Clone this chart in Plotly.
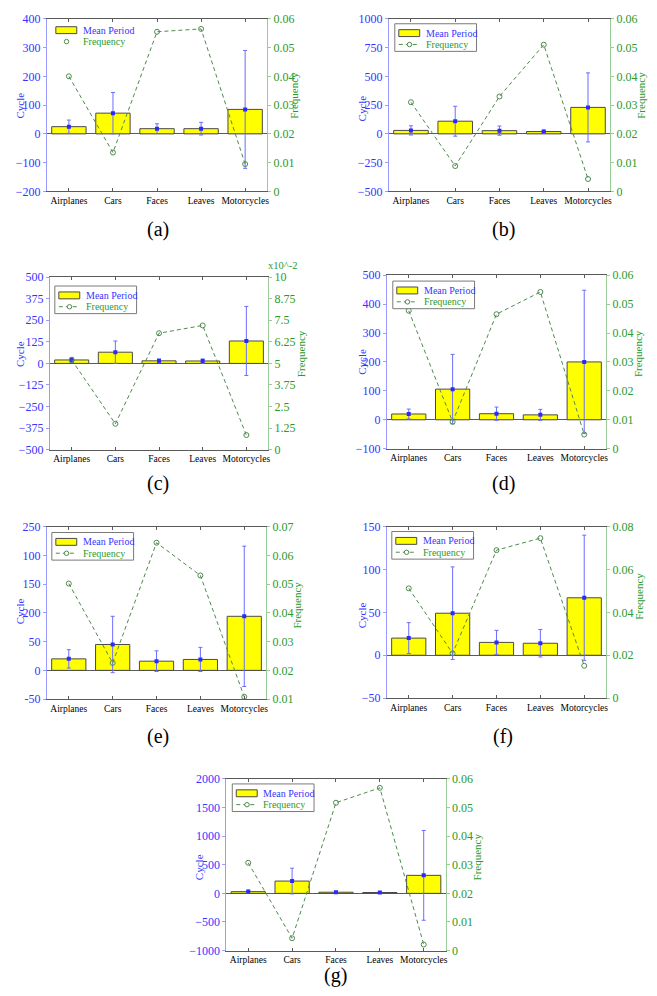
import plotly.graph_objects as go

categories = ["Airplanes", "Cars", "Faces", "Leaves", "Motorcycles"]

a_mean = [25, 72, 18, 18, 85]
a_err = [23, 72, 17, 22, 205]
a_freq = [0.040, 0.0135, 0.0555, 0.0565, 0.0095]

b_mean = [30, 110, 28, 20, 230]
b_err = [40, 130, 40, 12, 300]
b_freq = [0.031, 0.0088, 0.033, 0.051, 0.0043]

c_mean = [20, 65, 15, 14, 130]
c_err = [15, 65, 10, 12, 200]
c_freq = [5.2, 1.5, 6.75, 7.2, 0.85]  # x10^-2

d_mean = [20, 106, 21, 17, 200]
d_err = [17, 120, 23, 19, 248]
d_freq = [0.0477, 0.0093, 0.0465, 0.0542, 0.0049]

e_mean = [20, 45, 16, 19, 94]
e_err = [16, 49, 18, 21, 122]
e_freq = [0.0502, 0.0226, 0.0644, 0.053, 0.0108]
e_tickvals = [-50, 0, 50, 100, 150, 200, 250]
e_ticktext = ["-50", "0", "50", "200", "150", "100", "250"]

f_mean = [20, 49, 15, 14, 67]
f_err = [18, 54, 14, 16, 73]
f_freq = [0.0512, 0.0209, 0.069, 0.0746, 0.0151]

g_mean = [30, 215, 20, 15, 315]
g_err = [30, 225, 15, 10, 785]
g_freq = [0.0307, 0.0043, 0.0517, 0.0569, 0.0021]

panel_labels = ["(a)", "(b)", "(c)", "(d)", "(e)", "(f)", "(g)"]

W, H = 657, 996
FONT = "Liberation Serif, Times New Roman, serif"
BLUE = "#3535ff"
BLUE_LINE = "#9a9aff"
GREEN = "#2a9a2a"
GREEN_LINE = "#9acc9a"
FREQ_LINE = "#4f8a4f"
ERR = "#6c6cff"

boxes = [
    (47, 268, 12, 187),
    (390, 612, 12, 187),
    (50, 269, 274, 449),
    (388, 608, 272, 448),
    (47, 267, 527, 702),
    (388, 608, 527, 701),
    (227, 447, 783, 957),
]
label_pos = [(158, 226), (505, 226), (158, 483), (505, 483), (158, 740), (505, 740), (337, 982)]
legend_pos = [(52, 14), (396, 17), (55, 283), (394, 278), (52, 533), (393, 532), (233, 788)]
cycle_pos = [(20, 100), (363, 103), (20, 352), (363, 360), (20, 613), (363, 617), (199, 872)]
freq_pos = [(295, 90), (643, 90), (302, 352), (640, 352), (298, 607), (641, 598), (478, 862)]

panels = [
    dict(mean=a_mean, err=a_err, freq=a_freq, yr=[-200, 400], dt=100, y2r=[0, 0.06], dt2=0.01),
    dict(mean=b_mean, err=b_err, freq=b_freq, yr=[-500, 1000], dt=250, y2r=[0, 0.06], dt2=0.01),
    dict(mean=c_mean, err=c_err, freq=c_freq, yr=[-500, 500], dt=125, y2r=[0, 10], dt2=1.25),
    dict(mean=d_mean, err=d_err, freq=d_freq, yr=[-100, 500], dt=100, y2r=[0, 0.06], dt2=0.01),
    dict(mean=e_mean, err=e_err, freq=e_freq, yr=[-50, 250], dt=50, y2r=[0.01, 0.07], dt2=0.01,
         tv=e_tickvals, tt=e_ticktext),
    dict(mean=f_mean, err=f_err, freq=f_freq, yr=[-50, 150], dt=50, y2r=[0, 0.08], dt2=0.02),
    dict(mean=g_mean, err=g_err, freq=g_freq, yr=[-1000, 2000], dt=500, y2r=[0, 0.06], dt2=0.01),
]


def px(x):
    return x / W


def py(y):
    return 1 - y / H


fig = go.Figure()
layout = dict(
    width=W, height=H, margin=dict(l=0, r=0, t=0, b=0),
    paper_bgcolor="white", plot_bgcolor="white",
    font=dict(family=FONT, size=11, color="black"),
    showlegend=False, barmode="overlay",
)
annotations = []
shapes = []

for i, p in enumerate(panels):
    n = i + 1
    xname = "x" if n == 1 else f"x{n}"
    yl = 2 * i + 1
    yr_ = 2 * i + 2
    ylname = "y" if yl == 1 else f"y{yl}"
    yrname = f"y{yr_}"
    x0, x1, y0, y1 = boxes[i]

    fig.add_trace(go.Bar(
        x=categories, y=p["mean"], xaxis=xname, yaxis=ylname, name="Mean Period",
        marker=dict(color="#ffff00", line=dict(color="#4a4a4a", width=1)),
        width=0.78,
    ))
    fig.add_trace(go.Scatter(
        x=categories, y=p["mean"], xaxis=xname, yaxis=ylname, mode="markers",
        marker=dict(color="#2a2aff", size=4, symbol="square"),
        error_y=dict(type="data", array=p["err"], color=ERR, thickness=1, width=2),
        name="Mean Period",
    ))
    fig.add_trace(go.Scatter(
        x=categories, y=p["freq"], xaxis=xname, yaxis=yrname, mode="lines+markers",
        line=dict(color=FREQ_LINE, width=1, dash="4px,3px"),
        marker=dict(symbol="circle-open", size=5, color=FREQ_LINE, line=dict(width=1)),
        name="Frequency",
    ))

    xkey = "xaxis" if n == 1 else f"xaxis{n}"
    ylkey = "yaxis" if yl == 1 else f"yaxis{yl}"
    yrkey = f"yaxis{yr_}"
    layout[xkey] = dict(
        domain=[px(x0), px(x1)], anchor=ylname, type="category", range=[-0.5, 4.5],
        showline=True, linecolor="#5a5a5a", linewidth=1, mirror="ticks",
        ticks="inside", ticklen=3, tickcolor="#5a5a5a", showgrid=False, tickangle=0,
        tickfont=dict(family=FONT, size=9.5, color="black"), fixedrange=True,
    )
    ya = dict(
        domain=[py(y1), py(y0)], anchor=xname, range=p["yr"], dtick=p["dt"], tick0=0,
        showline=True, linecolor=BLUE_LINE, linewidth=1, ticks="outside", ticklen=3,
        tickcolor=BLUE_LINE, showgrid=False, zeroline=True, zerolinecolor="#5a5a5a",
        zerolinewidth=1, tickfont=dict(family=FONT, size=12, color=BLUE),
    )
    if "tv" in p:
        ya.update(tickmode="array", tickvals=p["tv"], ticktext=p["tt"])
    layout[ylkey] = ya
    layout[yrkey] = dict(
        overlaying=ylname, anchor=xname, side="right", range=p["y2r"], dtick=p["dt2"],
        tick0=0, showline=True, linecolor=GREEN_LINE, linewidth=1, ticks="outside",
        ticklen=3, tickcolor=GREEN_LINE, showgrid=False, zeroline=False,
        tickfont=dict(family=FONT, size=12, color=GREEN),
    )

    cx, cy = cycle_pos[i]
    annotations.append(dict(text="Cycle", x=px(cx), y=py(cy), xref="paper", yref="paper",
                            showarrow=False, textangle=-90, xanchor="center", yanchor="middle",
                            font=dict(family=FONT, size=11, color=BLUE)))
    fx, fy = freq_pos[i]
    annotations.append(dict(text="Frequency", x=px(fx), y=py(fy), xref="paper", yref="paper",
                            showarrow=False, textangle=-90, xanchor="center", yanchor="middle",
                            font=dict(family=FONT, size=11, color=GREEN)))

    lx, ly = legend_pos[i]
    boxed = n != 1
    if boxed:
        shapes.append(dict(type="rect", xref="paper", yref="paper", layer="above",
                           x0=px(lx), x1=px(lx + 82), y0=py(ly + 28), y1=py(ly),
                           line=dict(color="#7a7a7a", width=1), fillcolor="white"))
    shapes.append(dict(type="rect", xref="paper", yref="paper", layer="above",
                       x0=px(lx + 4), x1=px(lx + 25), y0=py(ly + 13), y1=py(ly + 6),
                       line=dict(color="#4a4a4a", width=1), fillcolor="#ffff00"))
    if boxed:
        shapes.append(dict(type="line", xref="paper", yref="paper", layer="above",
                           x0=px(lx + 4), x1=px(lx + 25), y0=py(ly + 21), y1=py(ly + 21),
                           line=dict(color=FREQ_LINE, width=1, dash="4px,3px")))
    shapes.append(dict(type="circle", xref="paper", yref="paper", layer="above",
                       x0=px(lx + 12.5), x1=px(lx + 17), y0=py(ly + 23.3), y1=py(ly + 18.8),
                       line=dict(color=FREQ_LINE, width=1), fillcolor="white"))
    annotations.append(dict(text="Mean Period", x=px(lx + 29), y=py(ly + 9.5), xref="paper",
                            yref="paper", showarrow=False, xanchor="left", yanchor="middle",
                            font=dict(family=FONT, size=10, color=BLUE)))
    annotations.append(dict(text="Frequency", x=px(lx + 29), y=py(ly + 21), xref="paper",
                            yref="paper", showarrow=False, xanchor="left", yanchor="middle",
                            font=dict(family=FONT, size=10, color=GREEN)))

    lbx, lby = label_pos[i]
    annotations.append(dict(text=panel_labels[i], x=px(lbx), y=py(lby), xref="paper",
                            yref="paper", showarrow=False, xanchor="center", yanchor="middle",
                            font=dict(family=FONT, size=20, color="black")))

annotations.append(dict(
    text="x10^-2", x=px(boxes[2][1] - 1), y=py(boxes[2][2] - 5), xref="paper", yref="paper",
    showarrow=False, font=dict(family=FONT, size=10.5, color=GREEN), xanchor="left",
    yanchor="bottom", borderpad=0,
))

layout["annotations"] = annotations
layout["shapes"] = shapes
fig.update_layout(**layout)

fig.write_html("out.html", config={"displayModeBar": False},
               post_script="document.body.style.margin='0';")
